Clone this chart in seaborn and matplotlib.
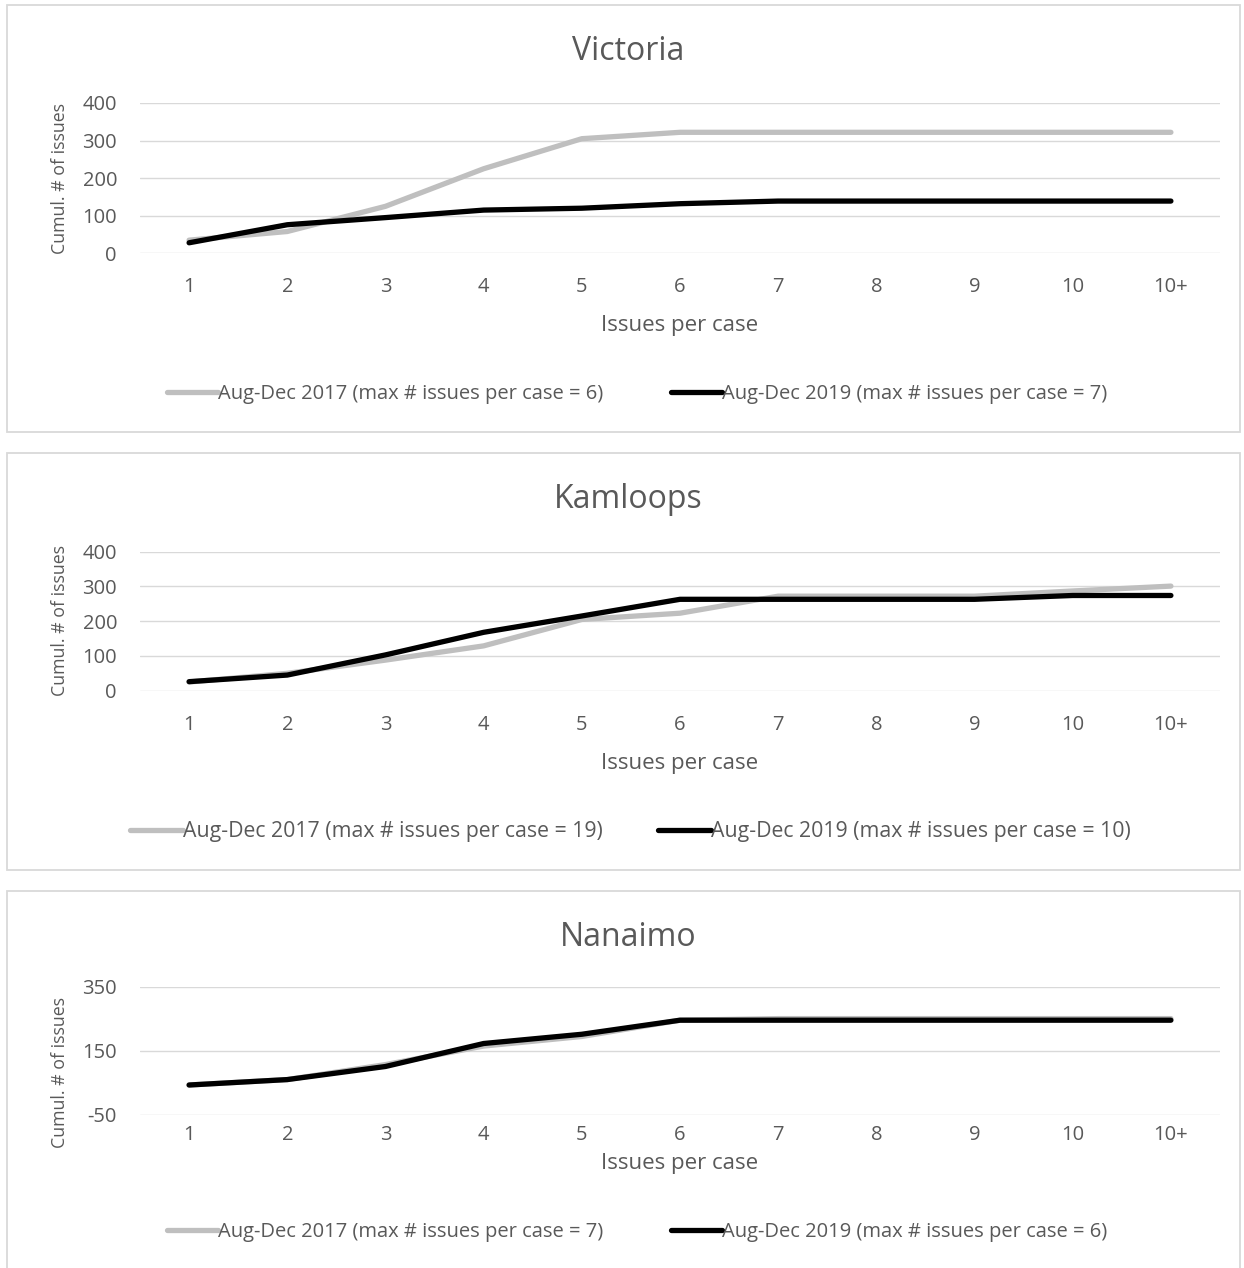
import matplotlib
matplotlib.use("Agg")
import matplotlib.pyplot as plt
from matplotlib.patches import Rectangle
import seaborn as sns
import pandas as pd

# Category axis
issues_per_case = ["1", "2", "3", "4", "5", "6", "7", "8", "9", "10", "10+"]

# Cumulative number of issues per region
victoria_2017 = [35, 58, 125, 225, 305, 322, 322, 322, 322, 322, 322]
victoria_2019 = [28, 76, 95, 115, 120, 132, 139, 139, 139, 139, 139]
kamloops_2017 = [25, 50, 88, 129, 205, 223, 272, 272, 272, 287, 301]
kamloops_2019 = [26, 45, 103, 168, 215, 263, 263, 263, 263, 274, 274]
nanaimo_2017 = [43, 60, 107, 165, 195, 246, 251, 251, 251, 251, 251]
nanaimo_2019 = [43, 60, 101, 173, 202, 246, 246, 246, 246, 246, 246]

series_2017 = ["Aug-Dec 2017 (max # issues per case = 6)",
               "Aug-Dec 2017 (max # issues per case = 19)",
               "Aug-Dec 2017 (max # issues per case = 7)"]
series_2019 = ["Aug-Dec 2019 (max # issues per case = 7)",
               "Aug-Dec 2019 (max # issues per case = 10)",
               "Aug-Dec 2019 (max # issues per case = 6)"]
titles = ["Victoria", "Kamloops", "Nanaimo"]
y_ticks = [[0, 100, 200, 300, 400], [0, 100, 200, 300, 400], [-50, 150, 350]]

sns.set_theme(style="white")
plt.rcParams["font.family"] = ["Open Sans", "DejaVu Sans"]

W, H = 1244, 1268
PT = 0.72  # points per pixel at 100 dpi
fig = plt.figure(figsize=(W / 100, H / 100), dpi=100)

TEXT = "#595959"
GRID = "#D9D9D9"
GREY = "#BFBFBF"


def fig_box(x0, y0, x1, y1):
    return [x0 / W, 1 - y1 / H, (x1 - x0) / W, (y1 - y0) / H]


# panel frames, plot areas, label rows (pixel layout)
frames = [(7, 5, 1240, 432), (7, 453, 1240, 870), (7, 891, 1240, 1290)]
plots = [(140, 103, 1220, 253.3), (140, 551.7, 1220, 690.7), (140, 987, 1220, 1114.7)]
title_rows = [51, 500, 938]
tick_rows = [287, 725, 1135]
xlabel_rows = [325, 763, 1164]
ylabel_rows = [178, 621, 1072]
legend_rows = [394, 832, 1232]
legend_centers = [637, 630, 637]
legend_gaps = [3.4, 2.6, 3.4]
legend_sizes = [14.5, 15.3, 14.5]

data_2017 = [victoria_2017, kamloops_2017, nanaimo_2017]
data_2019 = [victoria_2019, kamloops_2019, nanaimo_2019]

for i in range(3):
    fx0, fy0, fx1, fy1 = frames[i]
    fig.patches.append(Rectangle((fx0 / W, 1 - fy1 / H), (fx1 - fx0) / W, (fy1 - fy0) / H,
                                 transform=fig.transFigure, fill=False,
                                 edgecolor=GRID, linewidth=1.3))
    px0, py0, px1, py1 = plots[i]
    wpx, hpx = px1 - px0, py1 - py0
    ax = fig.add_axes(fig_box(px0, py0, px1, py1))

    pos = list(range(len(issues_per_case)))
    df = pd.DataFrame({
        "pos": pos + pos,
        "value": data_2017[i] + data_2019[i],
        "series": [series_2017[i]] * len(pos) + [series_2019[i]] * len(pos),
    })
    sns.lineplot(data=df, x="pos", y="value", hue="series",
                 hue_order=[series_2017[i], series_2019[i]],
                 palette=[GREY, "black"], linewidth=3.8, ax=ax,
                 solid_capstyle="round", solid_joinstyle="round")

    lo, hi = y_ticks[i][0], y_ticks[i][-1]
    ax.set_ylim(lo, hi)
    ax.set_xlim(-0.5, len(issues_per_case) - 0.5)
    ax.set_yticks(y_ticks[i])
    ax.set_yticklabels([str(t) for t in y_ticks[i]])
    ax.set_xticks(pos)
    ax.set_xticklabels(issues_per_case)
    for t in y_ticks[i]:
        ax.axhline(t, color=GRID, linewidth=1.0, zorder=0)
    for s in ax.spines.values():
        s.set_visible(False)
    ax.tick_params(axis="both", length=0, labelsize=14.5, labelcolor=TEXT)
    ax.tick_params(axis="y", pad=23 * PT)
    ax.tick_params(axis="x", pad=(tick_rows[i] - py1 - 10) * PT)

    ax.set_xlabel("Issues per case", fontsize=16, color=TEXT)
    ax.xaxis.set_label_coords((680 - px0) / wpx, (py1 - xlabel_rows[i]) / hpx)
    ax.xaxis.label.set_va("center")
    ax.set_ylabel("Cumul. # of issues", fontsize=12.8, color=TEXT)
    ax.yaxis.set_label_coords((60 - px0) / wpx, (py1 - ylabel_rows[i]) / hpx)
    ax.yaxis.label.set_va("center")

    ax.set_title(titles[i], fontsize=23, color=TEXT, va="center", ha="center",
                 x=(628 - px0) / wpx, y=(py1 - title_rows[i]) / hpx, pad=0)

    handles, labels = ax.get_legend_handles_labels()
    leg = ax.legend(handles, labels, ncol=2, frameon=False,
                    loc="center", bbox_to_anchor=(legend_centers[i] / W, 1 - legend_rows[i] / H),
                    bbox_transform=fig.transFigure, handlelength=2.5, handletextpad=0.0,
                    columnspacing=legend_gaps[i], fontsize=legend_sizes[i], labelcolor=TEXT)
    for ln in leg.get_lines():
        ln.set_linewidth(3.8)

fig.savefig("out.png", dpi=100, facecolor="white")
